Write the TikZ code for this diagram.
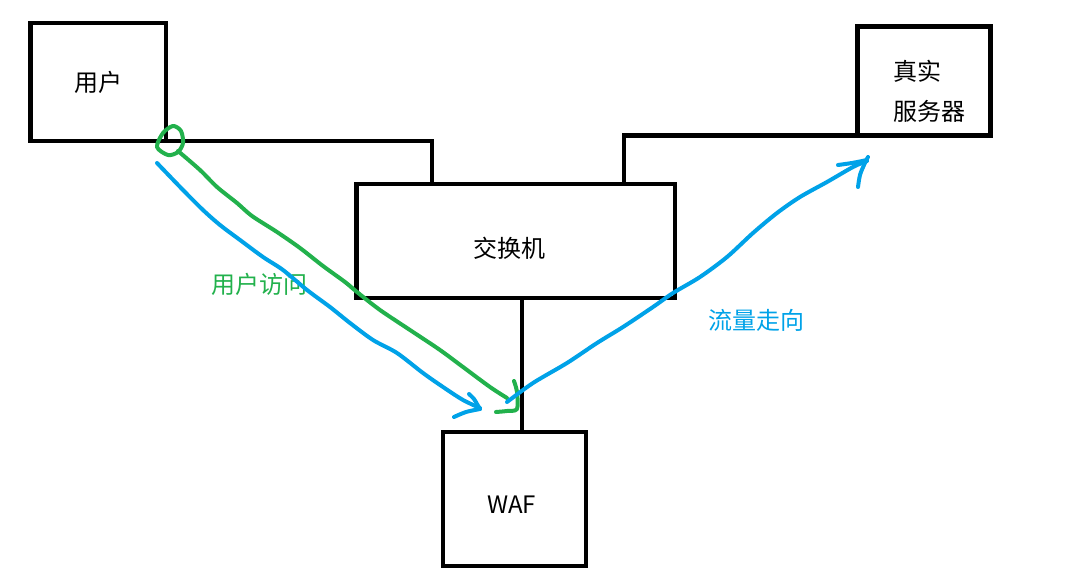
\documentclass[tikz,border=0pt]{standalone}
\usepackage{fontspec}
\setmainfont{Noto Sans CJK SC}
\usepackage{tikz}
\definecolor{paintgreen}{RGB}{34,177,76}
\definecolor{paintblue}{RGB}{0,162,232}

\begin{document}
\begin{tikzpicture}[x=1bp,y=-1bp,
	box/.style={draw, line width=4.3bp, outer sep=0pt, inner sep=0pt},
	wire/.style={line width=4.3bp},
	txt/.style={font=\fontsize{24bp}{40bp}\selectfont, inner sep=0pt},
	pen/.style={line width=4bp, line cap=round, line join=round}]
	\useasboundingbox (0,0) rectangle (1086,584);

	\node (user)   at (98.25,82)  [box, minimum width=135.5bp, minimum height=118bp, txt] {用户};
	\node (switch) at (515.6,241) [box, minimum width=318.2bp, minimum height=114bp]      {};
	\node (server) at (924,81)    [box, minimum width=133bp,   minimum height=109bp]      {};
	\node (waf)    at (514.5,499) [box, minimum width=143bp,   minimum height=134.6bp]    {};

	\node (switchtxt) at (509,248.5)   [txt]             {交换机};
	\node (servertxt) at (929,91)      [txt, align=left] {真实\\服务器};
	\node (waftxt)    at (511.5,505)   [txt]             {WAF};
	\node (visitlbl)  at (259.5,284.5) [txt, paintgreen] {用户访问};
	\node (flowlbl)   at (756.5,320)   [txt, paintblue]  {流量走向};

	\draw [wire] (user.south east) -| ([xshift=75.5bp]switch.north west);
	\draw [wire] (server.south west) -| ([xshift=267.5bp]switch.north west);
	\draw [wire] ([xshift=6.4bp]switch.south) -- ([xshift=6.4bp]switch.south |- waf.north);

	% user visit (green)
	\draw [pen, paintgreen] plot [smooth cycle] coordinates {(157,147) (163,133) (173,126) (181,131) (183,143) (178,152) (168,155)};
	\draw [pen, paintgreen] plot [smooth] coordinates {(178,151) (200,170) (217,187) (237,203) (252,216) (277,232) (300,248) (323,266) (345,282) (357,292) (380,310) (413,332) (440,350) (463,367) (490,387) (507,398)};
	\draw [pen, paintgreen] plot [smooth] coordinates {(514,381) (517,392) (517,409) (507,411) (496,412)};

	% traffic flow (blue)
	\draw [pen, paintblue] plot [smooth] coordinates {(157,163) (183,190) (203,210) (220,225) (240,240) (263,257) (283,270) (307,290) (330,307) (350,323) (373,340) (397,353) (423,373) (443,387) (463,400) (480,408)};
	\draw [pen, paintblue] plot [smooth] coordinates {(469,394) (474,399) (477,404) (480,409)};
	\draw [pen, paintblue] plot [smooth] coordinates {(454,417) (466,412) (480,409)};
	\draw [pen, paintblue] plot [smooth] coordinates {(507,402) (533,383) (567,363) (597,343) (623,327) (653,307) (673,293) (700,277) (727,257) (753,233) (777,213) (800,197) (827,182) (853,167) (867,161)};
	\draw [pen, paintblue] plot [smooth] coordinates {(838,165) (852,163) (867,160)};
	\draw [pen, paintblue] plot [smooth] coordinates {(858,187) (860,175) (864,165) (868,157)};
\end{tikzpicture}
\end{document}
